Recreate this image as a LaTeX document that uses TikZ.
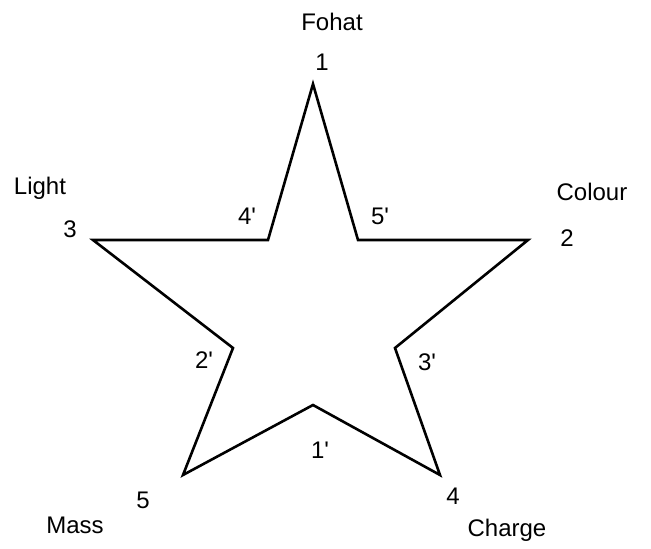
\documentclass[tikz,border=0pt]{standalone}
\usepackage{fontspec}
\setmainfont{Liberation Sans}
\newcommand{\pr}{\textquotesingle}
\begin{document}
\begin{tikzpicture}[x=1pt,y=1pt,
  lbl/.style={inner sep=0pt, font=\fontsize{24}{28}\selectfont},
  edge/.style={line width=2.6pt, line join=miter}]
\useasboundingbox (0,0) rectangle (651,549);
% vertices
\coordinate (p1) at (313,465);
\coordinate (q5) at (358,309);
\coordinate (p2) at (528,309);
\coordinate (q3) at (395,201);
\coordinate (p4) at (440,74);
\coordinate (q1) at (313,144);
\coordinate (p5) at (183,74);
\coordinate (q2) at (233,201);
\coordinate (p3) at (93,309);
\coordinate (q4) at (268,309);
\draw[edge] (p1) -- (q5) -- (p2) -- (q3) -- (p4) -- (q1) -- (p5) -- (q2) -- (p3) -- (q4) -- cycle;
% labels
\node[lbl] (fohat) at (332,527) {Fohat};
\node[lbl] (n1) at (322,487) {1};
\node[lbl] (light) at (40,361) {Light};
\node[lbl] (n3) at (70,320) {3};
\node[lbl] (colour) at (592,357) {Colour};
\node[lbl] (n2) at (567,311) {2};
\node[lbl] (mass) at (75,24) {Mass};
\node[lbl] (n5) at (143,49) {5};
\node[lbl] (n4) at (453,53) {4};
\node[lbl] (charge) at (507,19) {Charge};
\node[lbl] (m4) at (247,333) {4\pr};
\node[lbl] (m5) at (380,333) {5\pr};
\node[lbl] (m2) at (204,189) {2\pr};
\node[lbl] (m3) at (427,187) {3\pr};
\node[lbl] (m1) at (320,99) {1\pr};
\end{tikzpicture}
\end{document}
